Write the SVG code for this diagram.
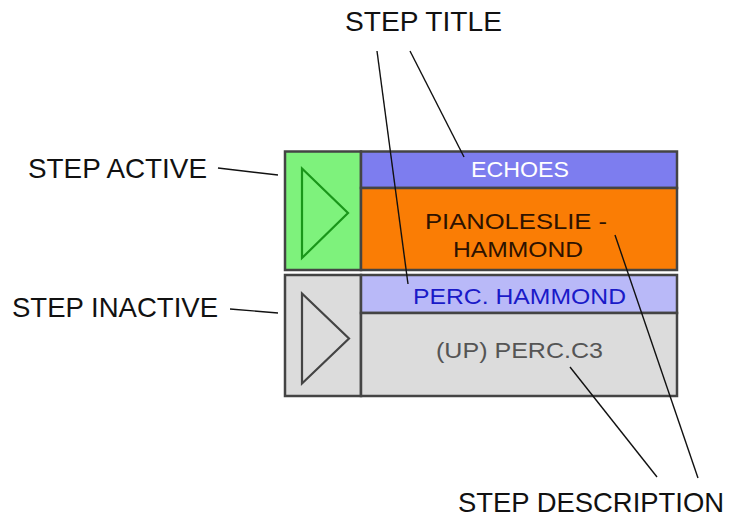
<svg xmlns="http://www.w3.org/2000/svg" width="729" height="518" viewBox="0 0 729 518">
<style>
.lbl{font-family:"Liberation Sans",Arial,sans-serif;font-size:27.5px;fill:#111}
.cell{stroke:#444;stroke-width:2.5}
.t{font-family:"Liberation Sans",Arial,sans-serif;font-size:22px;text-anchor:middle}
.ln{stroke:#111;stroke-width:1.4;fill:none}
</style>
<rect width="729" height="518" fill="#fff"/>
<g id="step-active">
<rect class="cell" x="285" y="151.5" width="76" height="118.5" fill="#7ef27c"/>
<polygon points="302,168.5 348,213 302,258" fill="none" stroke="#1a961a" stroke-width="2.2"/>
</g>
<g id="title-echoes">
<rect class="cell" x="361" y="151.5" width="316" height="36.5" fill="#7d7def"/>
<text class="t" x="520" y="177" fill="#fff" textLength="98" lengthAdjust="spacingAndGlyphs">ECHOES</text>
</g>
<g id="desc-pianoleslie">
<rect class="cell" x="361" y="188" width="316" height="82" fill="#fa7d05"/>
<text class="t" x="516" y="229" fill="#2e1200" textLength="182" lengthAdjust="spacingAndGlyphs">PIANOLESLIE -</text>
<text class="t" x="518" y="257" fill="#2e1200" textLength="130" lengthAdjust="spacingAndGlyphs">HAMMOND</text>
</g>
<g id="step-inactive">
<rect class="cell" x="285" y="275" width="76" height="121" fill="#dcdcdc"/>
<polygon points="302,293.5 349,338.5 302,383.5" fill="none" stroke="#444" stroke-width="2.2"/>
</g>
<g id="title-perc">
<rect class="cell" x="361" y="275" width="316" height="38" fill="#b9b9f8"/>
<text class="t" x="519.5" y="304" fill="#1a1ac8" textLength="213" lengthAdjust="spacingAndGlyphs">PERC. HAMMOND</text>
</g>
<g id="desc-perc">
<rect class="cell" x="361" y="313" width="316" height="83" fill="#dcdcdc"/>
<text class="t" x="519.5" y="358" fill="#555" textLength="167" lengthAdjust="spacingAndGlyphs">(UP) PERC.C3</text>
</g>
<g id="label-title"><text class="lbl" x="345" y="30.5" textLength="157" lengthAdjust="spacingAndGlyphs">STEP TITLE</text></g>
<g id="label-active"><text class="lbl" x="28" y="177.5" textLength="179" lengthAdjust="spacingAndGlyphs">STEP ACTIVE</text></g>
<g id="label-inactive"><text class="lbl" x="12" y="317" textLength="206" lengthAdjust="spacingAndGlyphs">STEP INACTIVE</text></g>
<g id="label-desc"><text class="lbl" x="458" y="511.5" textLength="266" lengthAdjust="spacingAndGlyphs">STEP DESCRIPTION</text></g>
<g id="connectors">
<line class="ln" x1="377" y1="51" x2="408" y2="284"/>
<line class="ln" x1="410" y1="51" x2="464" y2="157"/>
<line class="ln" x1="218" y1="168" x2="278" y2="175"/>
<line class="ln" x1="230" y1="309" x2="278" y2="313"/>
<line class="ln" x1="570" y1="367" x2="657" y2="477"/>
<line class="ln" x1="615" y1="235" x2="698" y2="478"/>
</g>
</svg>
